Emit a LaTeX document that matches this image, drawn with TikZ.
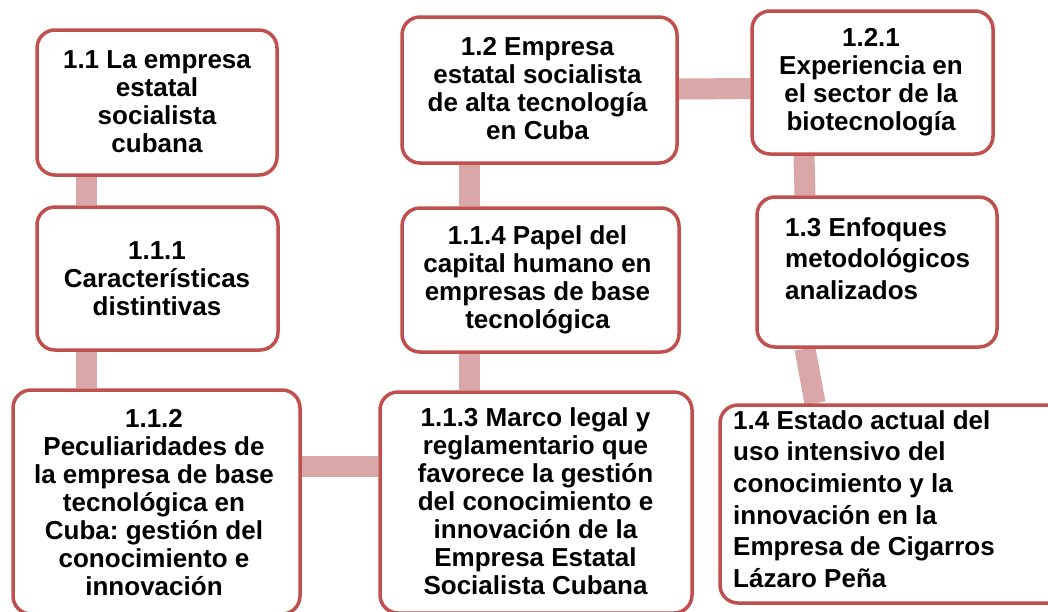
\documentclass[tikz,border=0pt]{standalone}
\usepackage{fontspec}
\setmainfont{Liberation Sans}
\frenchspacing
\definecolor{boxred}{HTML}{C0504D}
\definecolor{linkpink}{HTML}{D9A7A7}
\pgfdeclarelayer{bottom}
\pgfdeclarelayer{links}
\pgfsetlayers{bottom,links,main}
\tikzset{
  box/.style={draw=boxred, line width=3.5pt, rounded corners=18pt, fill=white, inner sep=0pt},
  lbl/.style={align=center, inner sep=0pt, font={\fontsize{26}{28}\selectfont\bfseries}},
  lbll/.style={align=left, anchor=west, inner sep=0pt, font={\fontsize{26}{31.7}\selectfont\bfseries}},
  link/.style={draw=linkpink, line width=21pt},
}
\begin{document}
\begin{tikzpicture}[x=1pt,y=-1pt]
\useasboundingbox (0,0) rectangle (1048,611);
\begin{pgfonlayer}{bottom}
\fill[white] (0,0) rectangle (1048,611);
\end{pgfonlayer}
% boxes
\node[box, minimum width=240pt, minimum height=145pt] (b11) at (157,102.5) {};
\node[box, minimum width=241pt, minimum height=143pt] (b111) at (157.5,278.5) {};
\node[box, minimum width=287pt, minimum height=224pt] (b112) at (156.5,502) {};
\node[box, minimum width=312pt, minimum height=221pt] (b113) at (536,502.5) {};
\node[box, minimum width=277pt, minimum height=144pt] (b114) at (540.5,280) {};
\node[box, minimum width=275pt, minimum height=146pt] (b12) at (539.5,90) {};
\node[box, minimum width=241pt, minimum height=143pt] (b121) at (872.5,82.5) {};
\node[box, minimum width=240pt, minimum height=150pt] (b13) at (877,272) {};
\node[box, minimum width=350pt, minimum height=198pt] (b14) at (895,504) {};
% connectors (behind boxes)
\begin{pgfonlayer}{links}
\draw[link] ([xshift=-70.5pt]b11.south) -- ([xshift=-71pt]b111.north);
\draw[link] ([xshift=-71.5pt]b111.south) -- ([xshift=-70.5pt]b112.north);
\draw[link] ([yshift=36pt]b112.east) -- ([yshift=36.5pt]b113.west);
\draw[link] ([xshift=-67pt]b113.north) -- ([xshift=-71.5pt]b114.south);
\draw[link] ([xshift=-71.5pt]b114.north) -- ([xshift=-70.5pt]b12.south);
\draw[link] ([yshift=1pt]b12.east) -- ([yshift=-6pt]b121.west);
\draw[link] ([xshift=-68.5pt]b121.south) -- ([xshift=-72pt]b13.north);
\draw[link] ([xshift=-72pt]b13.south) -- ([xshift=-80pt]b14.north);
\end{pgfonlayer}
% texts
\node[lbl] (t11) at (157,101.5) {1.1 La empresa\\estatal\\socialista\\cubana};
\node[lbl] (t111) at (157,278.5) {1.1.1\\Características\\distintivas};
\node[lbl] (t112) at (154,503) {1.1.2\\Peculiaridades de\\la empresa de base\\tecnológica en\\Cuba: gestión del\\conocimiento e\\innovación};
\node[lbl] (t113) at (535.5,501.5) {1.1.3 Marco legal y\\reglamentario que\\favorece la gestión\\del conocimiento e\\innovación de la\\Empresa Estatal\\Socialista Cubana};
\node[lbl] (t114) at (537.5,279.5) {1.1.4 Papel del\\capital humano en\\empresas de base\\tecnológica};
\node[lbl] (t12) at (537.5,88.5) {1.2 Empresa\\estatal socialista\\de alta tecnología\\en Cuba};
\node[lbl] (t121) at (871,82.5) {1.2.1\\Experiencia en\\el sector de la\\biotecnología};
\node[lbll] (t13) at (785,258.5) {1.3 Enfoques\\metodológicos\\analizados};
\node[lbll] (t14) at (733,499) {1.4 Estado actual del\\uso intensivo del\\conocimiento y la\\innovación en la\\Empresa de Cigarros\\Lázaro Peña};
\end{tikzpicture}
\end{document}
